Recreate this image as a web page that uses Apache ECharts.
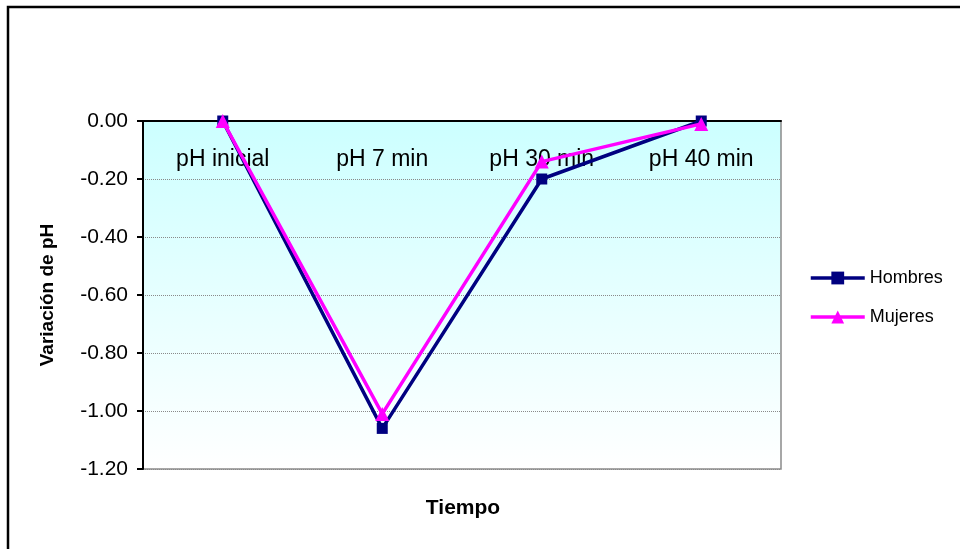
<!DOCTYPE html>
<html>
<head>
<meta charset="utf-8">
<script src="https://cdn.jsdelivr.net/npm/echarts@6/dist/echarts.min.js"></script>
<style>html,body{margin:0;padding:0;background:#fff}#c{width:960px;height:549px}</style>
</head>
<body>
<div id="c"></div>
<script>
var categories = ['pH inicial', 'pH 7 min', 'pH 30 min', 'pH 40 min'];
var hombres = [0, -1.06, -0.20, 0];
var mujeres = [0, -1.01, -0.14, -0.01];
var yMin = -1.2, yMax = 0, yStep = 0.2;

var chart = echarts.init(document.getElementById('c'));
var font = '"Liberation Sans", Arial, sans-serif';
chart.setOption({
  animation: false,
  textStyle: { fontFamily: font },
  grid: {
    left: 143, top: 121, right: 179, bottom: 80,
    show: true,
    borderColor: '#8a8a8a', borderWidth: 1.5,
    backgroundColor: new echarts.graphic.LinearGradient(0, 0, 0, 1, [
      { offset: 0, color: '#ccffff' },
      { offset: 1, color: '#ffffff' }
    ])
  },
  legend: {
    orient: 'vertical', left: 804, top: 264,
    itemWidth: 54, itemHeight: 16, itemGap: 21,
    textStyle: { fontSize: 18, color: '#000', fontFamily: font },
    lineStyle: { width: 3.5 },
    data: ['Hombres', 'Mujeres']
  },
  xAxis: {
    type: 'category', position: 'top', data: categories, boundaryGap: true,
    axisLine: { lineStyle: { color: '#000', width: 2 } },
    axisTick: { inside: true, length: 7, lineStyle: { color: '#000', width: 2 } },
    axisLabel: { inside: true, margin: 27, fontSize: 23, color: '#000', fontFamily: font },
    splitLine: { show: false }
  },
  yAxis: {
    type: 'value', min: yMin, max: yMax, interval: yStep,
    name: 'Variación de pH', nameLocation: 'middle', nameGap: 86,
    nameTextStyle: { fontSize: 19, fontWeight: 'bold', color: '#000', fontFamily: font },
    axisLine: { show: true, lineStyle: { color: '#000', width: 2 } },
    axisTick: { show: true, length: 6, lineStyle: { color: '#000', width: 2 } },
    axisLabel: { margin: 15, fontSize: 21, color: '#000', fontFamily: font,
      formatter: function (v) { return v.toFixed(2); } },
    splitLine: { lineStyle: { color: '#8a8a8a', type: 'dotted', width: 1 } }
  },
  series: [
    { name: 'Hombres', type: 'line', data: hombres, symbol: 'rect', symbolSize: 11,
      lineStyle: { color: '#000080', width: 3.5 }, itemStyle: { color: '#000080' }, z: 2 },
    { name: 'Mujeres', type: 'line', data: mujeres, symbol: 'triangle', symbolSize: 14,
      lineStyle: { color: '#ff00ff', width: 3.5 }, itemStyle: { color: '#ff00ff' }, z: 3 }
  ],
  graphic: [
    { type: 'rect', shape: { x: 8, y: 7, width: 1200, height: 800 },
      style: { fill: 'none', stroke: '#000', lineWidth: 2.5 }, z: 100 },
    { type: 'text', style: { text: 'Tiempo', x: 463, y: 508,
      textAlign: 'center', textVerticalAlign: 'middle',
      font: 'bold 21px "Liberation Sans", Arial, sans-serif', fill: '#000' } }
  ]
});
</script>
</body>
</html>
